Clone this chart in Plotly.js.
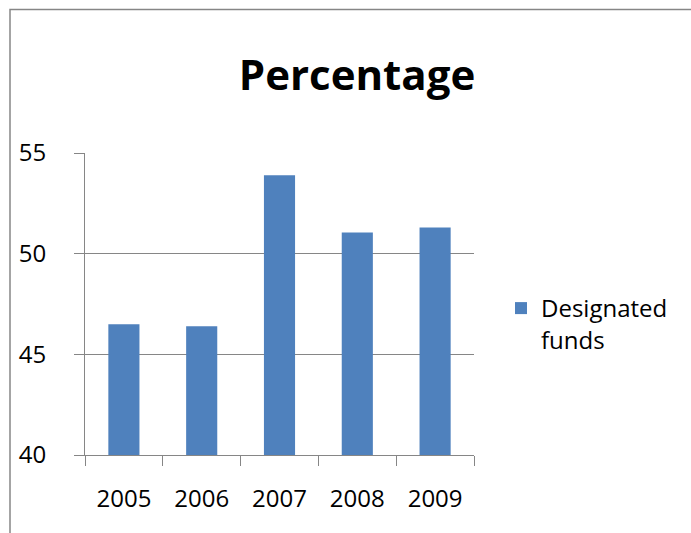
<!DOCTYPE html>
<html>
<head>
<meta charset="utf-8">
<script src="https://cdn.plot.ly/plotly-3.0.1.min.js"></script>
<style>html,body{margin:0;padding:0;background:#fff;}#chart{width:691px;height:533px;}</style>
</head>
<body>
<div id="chart"></div>
<script>
const years = ['2005', '2006', '2007', '2008', '2009'];
const designatedFunds = [46.5, 46.4, 53.9, 51.05, 51.3];
const seriesName = 'Designated<br>funds';
const chartTitle = 'Percentage';

const W = 691, H = 533;
const L = 85, R = 474, T = 153, B = 455;
const px = v => (v - L) / (R - L);
const py = v => (B - v) / (B - T);
const grey = '#868686';
const font = 'Open Sans, Noto Sans, sans-serif';

const trace = {
  type: 'bar',
  x: years,
  y: designatedFunds,
  name: seriesName,
  marker: { color: '#4F81BD' },
  showlegend: true
};

const layout = {
  width: W, height: H,
  margin: { l: L, r: W - R, t: T, b: H - B, pad: 0 },
  paper_bgcolor: '#fff',
  plot_bgcolor: '#fff',
  font: { family: font, color: '#000', size: 24 },
  title: {
    text: '<b>' + chartTitle + '</b>',
    font: { family: font, size: 42, color: '#000' },
    xref: 'paper', x: px(357), xanchor: 'center',
    yref: 'container', y: 1 - 75 / H, yanchor: 'middle'
  },
  bargap: 0.6,
  xaxis: {
    type: 'category',
    showline: true, linecolor: grey, linewidth: 1,
    ticks: 'outside', tickson: 'boundaries', ticklen: 10, tickcolor: grey, tickwidth: 1,
    showgrid: false,
    tickfont: { family: font, size: 24, color: '#000' },
    ticklabelstandoff: 22,
    fixedrange: true
  },
  yaxis: {
    range: [40, 55], dtick: 5, tick0: 40,
    showline: true, linecolor: grey, linewidth: 1,
    ticks: 'outside', ticklen: 10, tickcolor: grey, tickwidth: 1,
    showgrid: true, gridcolor: grey, gridwidth: 1,
    zeroline: false,
    tickfont: { family: font, size: 24, color: '#000' },
    ticklabelstandoff: 23,
    fixedrange: true
  },
  legend: {
    x: px(501), xanchor: 'left',
    y: py(286), yanchor: 'top',
    valign: 'top',
    font: { family: font, size: 24, color: '#000' },
    bgcolor: 'rgba(0,0,0,0)',
    borderwidth: 0
  },
  shapes: [{
    type: 'rect', xref: 'paper', yref: 'paper',
    x0: px(10), x1: px(720), y0: py(560), y1: py(9.5),
    line: { color: grey, width: 1.5 }, fillcolor: 'rgba(0,0,0,0)', layer: 'below'
  }]
};

Plotly.newPlot('chart', [trace], layout, { displayModeBar: false, staticPlot: true });
</script>
</body>
</html>
